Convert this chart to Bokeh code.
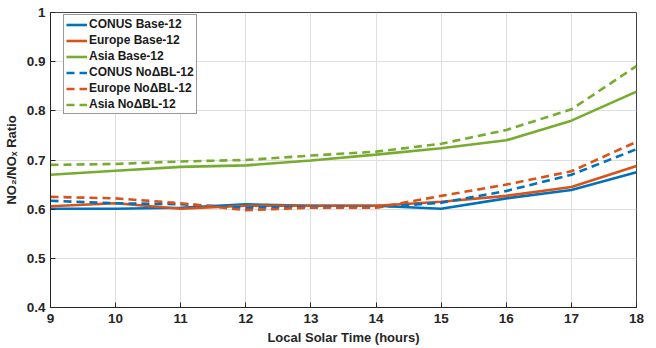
from bokeh.plotting import figure
from bokeh.models import Range1d, FixedTicker, Legend, LegendItem
from bokeh.embed import file_html
from bokeh.resources import INLINE

hours = [9, 10, 11, 12, 13, 14, 15, 16, 17, 18]
conus_base = [0.601, 0.601, 0.603, 0.610, 0.607, 0.607, 0.601, 0.622, 0.639, 0.675]
europe_base = [0.606, 0.612, 0.601, 0.607, 0.607, 0.607, 0.615, 0.627, 0.645, 0.688]
asia_base = [0.670, 0.678, 0.686, 0.689, 0.699, 0.711, 0.724, 0.740, 0.780, 0.839]
conus_nobl = [0.617, 0.612, 0.610, 0.603, 0.605, 0.604, 0.613, 0.637, 0.670, 0.722]
europe_nobl = [0.625, 0.622, 0.612, 0.598, 0.603, 0.603, 0.627, 0.650, 0.677, 0.737]
asia_nobl = [0.690, 0.692, 0.697, 0.700, 0.709, 0.717, 0.733, 0.761, 0.803, 0.891]

labels = ["CONUS Base-12", "Europe Base-12", "Asia Base-12",
          "CONUS No\u0394BL-12", "Europe No\u0394BL-12", "Asia No\u0394BL-12"]
x_ticks = [9, 10, 11, 12, 13, 14, 15, 16, 17, 18]
y_ticks = [0.4, 0.5, 0.6, 0.7, 0.8, 0.9, 1.0]

blue, orange, green = "#0072BD", "#D95319", "#77AC30"
FONT = "Liberation Sans"

p = figure(width=656, height=348, output_backend="svg", toolbar_location=None,
           x_range=Range1d(9, 18), y_range=Range1d(0.4, 1.0),
           min_border_left=50, min_border_right=20, min_border_top=12, min_border_bottom=41)
p.background_fill_color = "white"
p.border_fill_color = "white"
p.outline_line_color = "#444444"
p.outline_line_width = 1

for ax in (p.xaxis[0], p.yaxis[0]):
    ax.major_label_text_font = FONT
    ax.major_label_text_font_style = "bold"
    ax.major_label_text_font_size = "13.5px"
    ax.major_label_text_color = "#262626"
    ax.axis_label_text_font = FONT
    ax.axis_label_text_font_style = "bold"
    ax.axis_label_text_font_size = "13px"
    ax.axis_label_text_color = "#262626"
    ax.major_tick_in = 5
    ax.major_tick_out = 0
    ax.minor_tick_line_color = None
    ax.axis_line_color = "#262626"
    ax.major_tick_line_color = "#262626"

p.xaxis.ticker = FixedTicker(ticks=x_ticks)
p.yaxis.ticker = FixedTicker(ticks=y_ticks)
p.xaxis.major_label_overrides = {t: str(t) for t in x_ticks}
p.yaxis.major_label_overrides = {0.4: "0.4", 0.5: "0.5", 0.6: "0.6", 0.7: "0.7",
                                 0.8: "0.8", 0.9: "0.9", 1.0: "1"}
p.xaxis.axis_label = "Local Solar Time (hours)"
p.yaxis.axis_label = "NO\u2082/NO\u2093 Ratio"
p.xaxis.axis_label_standoff = 4
p.yaxis.axis_label_standoff = 5
p.xaxis.major_label_standoff = 6
p.yaxis.major_label_standoff = 5

p.xgrid.grid_line_color = "#dedede"
p.ygrid.grid_line_color = "#dedede"
p.xgrid.ticker = FixedTicker(ticks=x_ticks)
p.ygrid.ticker = FixedTicker(ticks=y_ticks)

series = [(conus_base, blue, "solid"), (europe_base, orange, "solid"), (asia_base, green, "solid"),
          (conus_nobl, blue, "8 5"), (europe_nobl, orange, "8 5"), (asia_nobl, green, "8 5")]
items = []
for (vals, col, dash), lab in zip(series, labels):
    r = p.line(hours, vals, line_color=col, line_width=2.6, line_dash=dash)
    items.append(LegendItem(label=lab, renderers=[r]))

legend = Legend(items=items, location=(13, 193))
legend.label_text_font = FONT
legend.label_text_font_style = "bold"
legend.label_text_font_size = "12px"
legend.label_text_color = "#1a1a1a"
legend.glyph_width = 21
legend.glyph_height = 13
legend.label_height = 13
legend.spacing = 2
legend.padding = 2
legend.margin = 0
legend.label_standoff = 2
legend.border_line_color = "#333333"
legend.border_line_width = 1
legend.background_fill_alpha = 1
p.add_layout(legend, "center")

open("out.html", "w").write(file_html(p, INLINE))
